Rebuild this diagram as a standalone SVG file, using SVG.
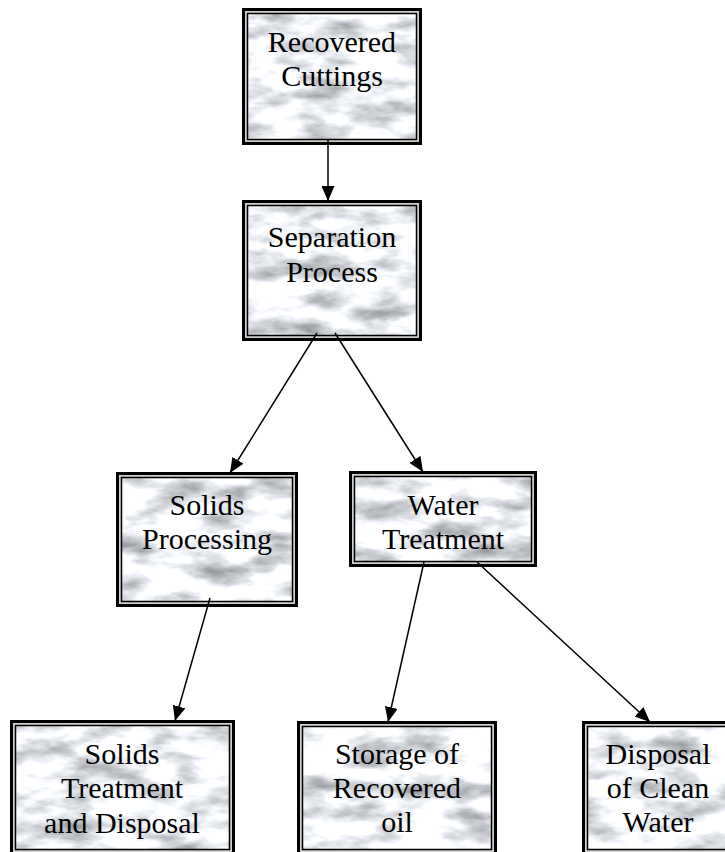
<svg xmlns="http://www.w3.org/2000/svg" width="725" height="852" viewBox="0 0 725 852">
<defs>
<filter id="marble" x="0" y="0" width="100%" height="100%" color-interpolation-filters="sRGB">
<feTurbulence type="fractalNoise" baseFrequency="0.02 0.05" numOctaves="4" seed="7" result="n"/>
<feColorMatrix in="n" type="matrix" values="0.9 0 0 0 0.48  0.9 0 0 0 0.49  0.9 0 0 0 0.51  0 0 0 0 1" result="g"/>
<feComposite in="g" in2="SourceGraphic" operator="in"/>
</filter>
<marker id="ah" markerUnits="userSpaceOnUse" markerWidth="15" markerHeight="13" refX="15" refY="6.5" orient="auto">
<path d="M0,0 L15,6.5 L0,13 z" fill="#000"/>
</marker>
</defs>
<style>
.frame{fill:#cfcfcf;stroke:#000;stroke-width:3}
.inner{fill:#eee;stroke:none}
.inline{fill:none;stroke:#000;stroke-width:1.5}
.lbl{font-family:"Liberation Serif","Times New Roman",serif;font-size:30px;fill:#000;text-anchor:middle}
.conn{stroke:#000;stroke-width:1.5;fill:none;marker-end:url(#ah)}
</style>
<rect width="725" height="852" fill="#fff"/>

<g id="recovered-cuttings">
<rect class="frame" x="243.5" y="9.5" width="177" height="134"/>
<rect class="inner" x="247.5" y="13.5" width="169" height="126" filter="url(#marble)"/>
<rect class="inline" x="247.5" y="13.5" width="169" height="126"/>
<text class="lbl" x="332" y="52">Recovered</text>
<text class="lbl" x="332" y="86">Cuttings</text>
</g>

<g id="separation-process">
<rect class="frame" x="243.5" y="201.5" width="177" height="138"/>
<rect class="inner" x="247.5" y="205.5" width="169" height="130" filter="url(#marble)"/>
<rect class="inline" x="247.5" y="205.5" width="169" height="130"/>
<text class="lbl" x="332" y="247">Separation</text>
<text class="lbl" x="332" y="282">Process</text>
</g>

<g id="solids-processing">
<rect class="frame" x="117.5" y="473.5" width="179" height="132"/>
<rect class="inner" x="121.5" y="477.5" width="171" height="124" filter="url(#marble)"/>
<rect class="inline" x="121.5" y="477.5" width="171" height="124"/>
<text class="lbl" x="207" y="515">Solids</text>
<text class="lbl" x="207" y="549">Processing</text>
</g>

<g id="water-treatment">
<rect class="frame" x="350.5" y="472.5" width="185" height="93"/>
<rect class="inner" x="354.5" y="476.5" width="177" height="85" filter="url(#marble)"/>
<rect class="inline" x="354.5" y="476.5" width="177" height="85"/>
<text class="lbl" x="443" y="515">Water</text>
<text class="lbl" x="443" y="549">Treatment</text>
</g>

<g id="solids-treatment-disposal">
<rect class="frame" x="11.5" y="721.5" width="222" height="140"/>
<rect class="inner" x="15.5" y="725.5" width="214" height="124" filter="url(#marble)"/>
<rect class="inline" x="15.5" y="725.5" width="214" height="124"/>
<text class="lbl" x="122" y="764">Solids</text>
<text class="lbl" x="122" y="798">Treatment</text>
<text class="lbl" x="122" y="833">and Disposal</text>
</g>

<g id="storage-recovered-oil">
<rect class="frame" x="298.5" y="722.5" width="197" height="140"/>
<rect class="inner" x="302.5" y="726.5" width="189" height="123" filter="url(#marble)"/>
<rect class="inline" x="302.5" y="726.5" width="189" height="123"/>
<text class="lbl" x="397" y="764">Storage of</text>
<text class="lbl" x="397" y="798">Recovered</text>
<text class="lbl" x="397" y="832">oil</text>
</g>

<g id="disposal-clean-water">
<rect class="frame" x="583.5" y="722.5" width="160" height="140"/>
<rect class="inner" x="587.5" y="726.5" width="152" height="123" filter="url(#marble)"/>
<rect class="inline" x="587.5" y="726.5" width="152" height="123"/>
<text class="lbl" x="658" y="764">Disposal</text>
<text class="lbl" x="658" y="798">of Clean</text>
<text class="lbl" x="658" y="832">Water</text>
</g>

<g id="connectors">
<line class="conn" x1="328" y1="140" x2="328" y2="201"/>
<line class="conn" x1="317" y1="333" x2="230" y2="473"/>
<line class="conn" x1="335" y1="333" x2="423" y2="472"/>
<line class="conn" x1="210" y1="598" x2="175" y2="721"/>
<line class="conn" x1="424" y1="562" x2="388" y2="722"/>
<line class="conn" x1="477" y1="562" x2="650" y2="722"/>
</g>
</svg>
